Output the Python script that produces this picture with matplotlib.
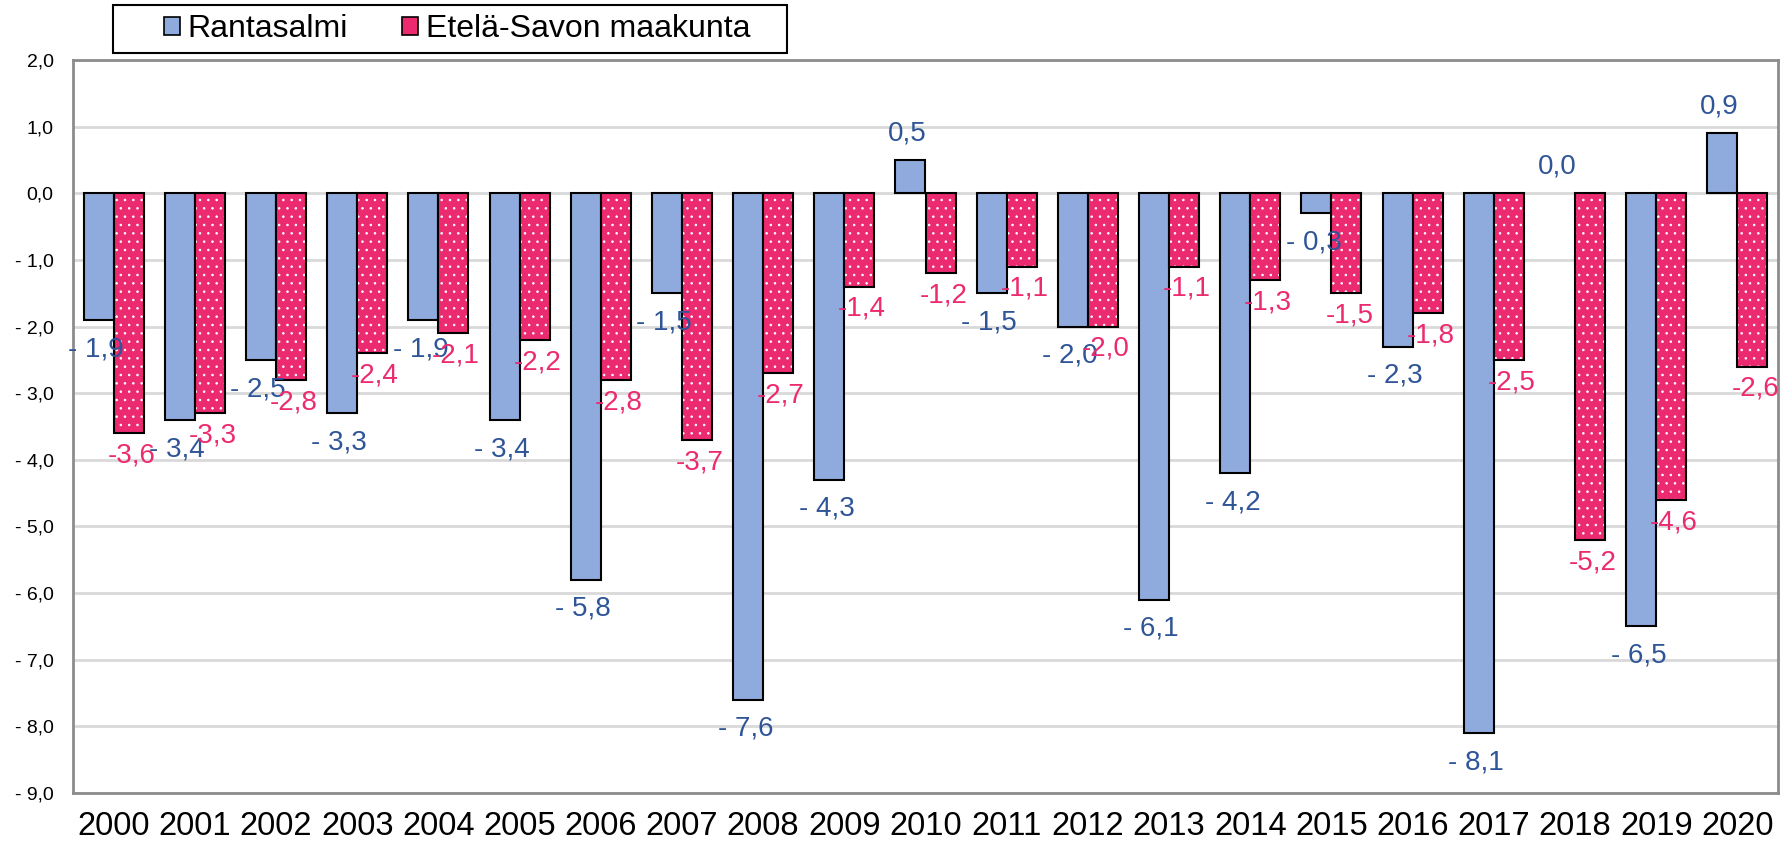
import matplotlib
matplotlib.use("Agg")
import matplotlib.pyplot as plt
from matplotlib.patches import Patch, Rectangle
import numpy as np

years = [str(y) for y in range(2000, 2021)]
rantasalmi = [-1.9, -3.4, -2.5, -3.3, -1.9, -3.4, -5.8, -1.5, -7.6, -4.3, 0.5,
              -1.5, -2.0, -6.1, -4.2, -0.3, -2.3, -8.1, 0.0, -6.5, 0.9]
etela_savo = [-3.6, -3.3, -2.8, -2.4, -2.1, -2.2, -2.8, -3.7, -2.7, -1.4, -1.2,
              -1.1, -2.0, -1.1, -1.3, -1.5, -1.8, -2.5, -5.2, -4.6, -2.6]
series_names = ["Rantasalmi", "Etelä-Savon maakunta"]
yticks = [2, 1, 0, -1, -2, -3, -4, -5, -6, -7, -8, -9]

BLUE = "#8FAADC"
PINK = "#EC2A6F"
BLUE_TXT = "#2F5597"
PINK_TXT = "#EC2A6F"
GRID = "#D9D9D9"
SPINE = "#8C8C8C"

plt.rcParams['font.family'] = ['Liberation Sans', 'DejaVu Sans']
plt.rcParams['hatch.linewidth'] = 0.6

fig = plt.figure(figsize=(17.87, 8.48), dpi=100)
ax = fig.add_axes([73/1787, 1-793/848, (1778-73)/1787, (793-60)/848])

x = np.arange(len(years))
w = 0.37

lw_b = [0 if v == 0 else 1.5 for v in rantasalmi]
ax.bar(x - w/2, rantasalmi, width=w, color=BLUE, edgecolor="black", linewidth=lw_b, zorder=3)
# pink bars: fill with white dot hatch, then black outline
ax.bar(x + w/2, etela_savo, width=w, color=PINK, edgecolor="white", hatch="..", linewidth=0, zorder=3)
ax.bar(x + w/2, etela_savo, width=w, fill=False, edgecolor="black", linewidth=1.5, zorder=4)

def fmt_r(v):
    s = f"{abs(v):.1f}".replace(".", ",")
    return ("- " + s) if v < 0 else s

def fmt_e(v):
    return f"{v:.1f}".replace(".", ",")

for xi, v in zip(x, rantasalmi):
    off = -21 if v < 0 else 19
    ax.annotate(fmt_r(v), (xi - w/2, v), xytext=(-2, off), textcoords="offset points",
                ha="center", va="center", fontsize=20, color=BLUE_TXT, zorder=5)
for xi, v in zip(x, etela_savo):
    off = -16 if v < 0 else 16
    ax.annotate(fmt_e(v), (xi + w/2, v), xytext=(2, off), textcoords="offset points",
                ha="center", va="center", fontsize=20, color=PINK_TXT, zorder=5)

ax.set_xlim(-0.5, len(years) - 0.5)
ax.set_ylim(-9, 2)
ax.set_yticks(yticks)
ax.set_yticklabels([("- " + f"{abs(t):.1f}".replace(".", ",")) if t < 0 else f"{t:.1f}".replace(".", ",")
                    for t in yticks], fontsize=14)
ax.set_xticks(x)
ax.set_xticklabels(years, fontsize=23.5)
ax.tick_params(axis="both", length=0)
ax.tick_params(axis="x", pad=13)
ax.tick_params(axis="y", pad=14)
ax.grid(axis="y", color=GRID, linewidth=2, zorder=0)
ax.set_axisbelow(True)
for s in ax.spines.values():
    s.set_color(SPINE)
    s.set_linewidth(2)

# legend box
fig.patches.append(Rectangle((113/1787, 1-53/848), (787-113)/1787, 48/848,
                             transform=fig.transFigure, facecolor="white",
                             edgecolor="black", linewidth=1.5, zorder=1))
handles = [Patch(facecolor=BLUE, edgecolor="black", linewidth=1.2),
           Patch(facecolor=PINK, edgecolor="black", linewidth=1.2)]
leg = fig.legend(handles, series_names, loc="center",
                 bbox_to_anchor=((113 + 787) / 2 / 1787 + 0.004, 1 - 29 / 848),
                 ncol=2, fontsize=23, frameon=False,
                 handlelength=0.5, handleheight=0.5, handletextpad=0.25,
                 columnspacing=1.7, borderpad=0.2, borderaxespad=0)

fig.savefig("out.png", dpi=100)
